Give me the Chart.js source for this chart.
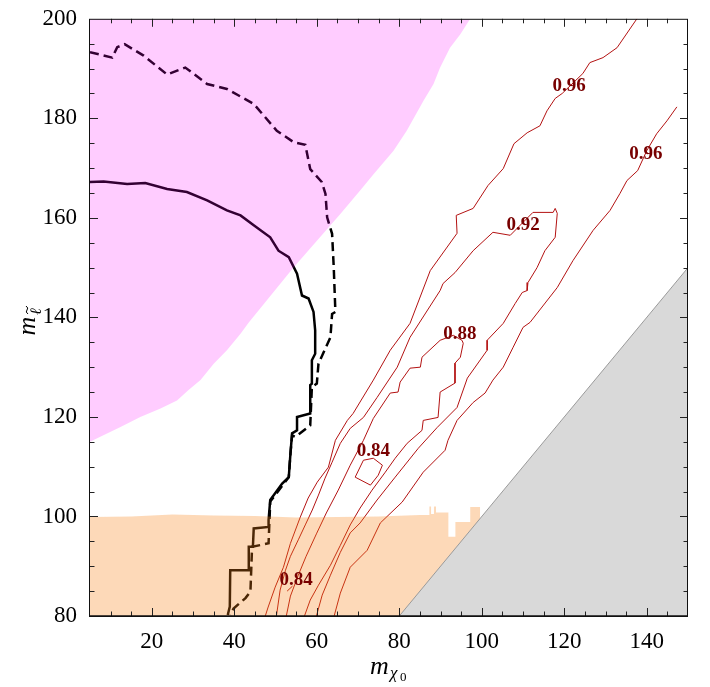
<!DOCTYPE html>
<html>
<head>
<meta charset="utf-8">
<script src="https://cdn.jsdelivr.net/npm/chart.js@4.4.1/dist/chart.umd.min.js"></script>
<style>
  html, body { margin: 0; padding: 0; background: #fff; }
</style>
</head>
<body>
<canvas id="grafico" width="710" height="687"></canvas>
<script>
// eixos
const xMin = 5, xMax = 150, yMin = 80, yMax = 200;
const xTicks = [20, 40, 60, 80, 100, 120, 140];
const yTicks = [80, 100, 120, 140, 160, 180, 200];

// regioes sombreadas (borda superior / inferior)
const regiaoRosa = [[5,115.0],[7.5,116.0],[12.4,118.0],[17.2,120.0],[22.1,121.7],[26.1,123.3],[28.9,125.4],[31.8,127.4],[35.0,130.7],[38.2,133.4],[41.5,136.7],[43.5,139.0],[54.3,150.0],[65.7,160.8],[70.5,165.5],[73.8,168.8],[78.6,173.5],[81.8,177.5],[85.9,183.6],[88.3,186.9],[89.9,190.2],[92.3,194.2],[94.8,196.9],[97.2,200]];
const regiaoLaranja = [[5,99.9],[15,100.0],[25,100.4],[35,100.2],[45,100.1],[55,99.8],[65,99.9],[75,100.0],[85,100.3],[87.3,100.3],[87.3,102],[87.7,102],[87.7,100.5],[88.4,100.5],[88.4,102],[88.9,102],[88.9,100.8],[91.9,100.8],[91.9,95.9],[93.6,95.9],[93.6,98.9],[97.2,98.9],[97.2,101.9],[99.6,101.9],[99.6,99.0]];
const regiaoCinza = [[80,80],[150,150]];

// limites pretos
const linhaSolida = [[5,167.2],[8.3,167.3],[14.0,166.8],[18.4,167.0],[23.7,165.8],[28.5,165.2],[33.4,163.5],[38.2,161.5],[41.5,160.5],[44.7,158.5],[48.7,156.1],[50.7,153.4],[53.2,152.1],[55.2,148.8],[56.4,144.4],[58.0,143.8],[59.2,141.1],[59.6,137.4],[59.6,132.7],[58.8,131.4],[58.8,126.7],[58.4,126.4],[58.4,120.7],[55.2,120.0],[55.2,117.3],[54.0,116.7],[53.6,112.6],[53.2,107.9],[51.6,106.6],[48.7,103.3],[48.3,99.3],[48.3,97.9],[44.7,97.6],[44.5,93.9],[43.5,93.9],[43.5,89.2],[39.0,89.2],[38.9,81.9],[38.4,80.2]];
const linhaTracejada = [[5,193.3],[10.4,192.2],[11.6,194.3],[13.4,194.9],[18.0,192.6],[23.7,188.8],[28.1,190.2],[33.4,186.9],[38.2,185.9],[44.7,182.9],[50.3,177.5],[54.4,175.2],[57.2,174.7],[58.4,169.8],[61.2,167.2],[62.1,164.8],[62.5,160.1],[63.7,156.8],[64.1,150.1],[64.5,141.1],[63.7,140.7],[63.3,136.0],[60.4,130.7],[60.0,126.7],[58.8,126.0],[58.4,118.3],[54.8,116.0],[54.0,116.3],[53.6,112.6],[53.2,107.9],[48.7,103.0],[48.3,94.6],[44.3,93.9],[43.9,84.9],[42.7,83.6],[39.8,81.5],[39.0,80.2]];

// contornos vermelhos
const contorno96a = [[47.5,80],[48.2,81.8],[49.9,85.8],[51.9,89.8],[53.6,94.6],[56.0,99.9],[57.9,103.7],[60.1,106.9],[62.8,109.9],[64.5,115.3],[67.4,119.3],[68.8,120.7],[73.7,127.4],[77.8,133.4],[82.6,138.8],[87.5,149.4],[94.0,156.9],[93.8,160.5],[97.9,161.9],[101.5,166.5],[105.2,169.9],[107.8,174.9],[111.0,177.1],[114.1,178.5],[115.8,181.5],[117.8,184.0],[119.5,185.0],[124.5,189.0],[126.2,191.2],[129.4,192.2],[132.8,194.2],[137.6,200]];
const contorno92 = [[50.2,80],[51.1,85.2],[52.4,89.2],[53.6,92.0],[55.5,95.3],[57.2,98.3],[58.9,101.3],[60.4,104.3],[62.0,107.7],[63.7,110.9],[65.7,114.7],[68.1,117.7],[71.3,119.9],[74.6,123.9],[79.5,130.0],[82.6,136.0],[89.9,145.4],[90.6,146.8],[93.5,149.0],[97.9,153.4],[102.7,157.1],[106.9,156.5],[112.4,161.1],[117.3,161.1],[117.8,161.9],[118.3,160.9],[117.8,156.1],[115.3,153.4],[113.4,150.0],[111.2,147.0],[111.0,145.4],[109.8,145.0],[108.1,142.8],[105.2,138.8],[101.3,135.4],[101.3,133.4],[96.5,127.8],[94.0,121.9],[89.2,117.9],[84.6,113.7],[79.0,107.9],[74.6,103.3],[70.5,98.7],[68.1,96.7],[65.7,92.8],[63.3,88.2],[61.3,84.2],[59.9,80]];
const contorno96b = [[147.3,182.3],[144.9,179.5],[142.4,176.9],[140.0,173.5],[137.8,169.5],[135.2,167.5],[133.5,164.9],[131.1,161.5],[127.0,157.5],[122.1,151.4],[118.3,146.0],[111.7,139.0],[110.0,138.0],[107.6,134.0],[105.2,130.0],[102.7,127.4],[100.8,124.8],[97.9,122.9],[94.0,119.3],[91.8,115.3],[91.1,113.3],[85.8,108.9],[80.7,102.9],[75.4,98.7],[72.2,93.2],[68.1,89.8],[65.7,84.6],[64.2,80]];
const contorno88 = [[52.6,80],[53.6,84.0],[55.5,88.2],[57.4,92.0],[59.9,96.5],[62.3,100.7],[65.2,105.3],[68.1,110.3],[71.3,115.3],[73.7,119.7],[77.8,124.8],[79.7,125.0],[80.2,127.0],[82.6,129.8],[85.1,130.0],[85.5,132.0],[89.9,135.4],[93.1,136.4],[95.2,135.4],[95.5,134.8],[94.8,132.0],[93.5,130.8],[93.5,126.8],[89.9,125.0],[89.4,119.9],[85.8,119.3],[85.5,117.3],[81.9,114.7],[79.0,111.7],[76.6,108.9],[73.4,105.3],[70.5,101.7],[68.1,98.3],[65.7,94.2],[63.3,90.2],[60.4,86.2],[58.4,83.2],[57.0,80]];
const contorno84a = [[69.3,107.9],[71.3,111.3],[73.7,111.7],[75.9,110.3],[74.9,108.3],[73.0,106.3],[69.3,107.9]];
const contorno84b = [[52.8,85.0],[54.1,86.0]];

// rotulos dos contornos
const rotulosTexto = ["0.96", "0.96", "0.92", "0.88", "0.84", "0.84"];
const rotulosX = [121.2, 139.8, 110.0, 94.7, 73.7, 55.0];
const rotulosY = [186.4, 172.9, 158.5, 136.6, 113.1, 87.2];

function pontos(lista) {
  return lista.map(([x, y]) => ({ x: x, y: y }));
}

function linhaVermelha(lista) {
  return {
    data: pontos(lista),
    showLine: true,
    pointRadius: 0,
    borderColor: "#b31212",
    borderWidth: 1,
    fill: false,
    order: 5,
  };
}

const extras = {
  id: "extras",
  afterDatasetsDraw(chart) {
    const { ctx, scales: { x, y } } = chart;
    ctx.save();
    ctx.fillStyle = "#780000";
    ctx.font = "bold 19px 'Liberation Serif'";
    ctx.textAlign = "center";
    ctx.textBaseline = "middle";
    for (let i = 0; i < rotulosTexto.length; i++) {
      ctx.fillText(rotulosTexto[i], x.getPixelForValue(rotulosX[i]), y.getPixelForValue(rotulosY[i]));
    }
    ctx.restore();
  },
  afterDraw(chart) {
    const { ctx, chartArea: a, scales: { x, y } } = chart;
    ctx.save();
    ctx.strokeStyle = "#222";
    ctx.lineWidth = 1;
    ctx.beginPath();
    for (let v = 10; v < xMax; v += 5) {
      const px = Math.round(x.getPixelForValue(v)) + 0.5;
      const len = v % 20 === 0 ? 8 : 4.5;
      ctx.moveTo(px, a.bottom); ctx.lineTo(px, a.bottom - len);
      ctx.moveTo(px, a.top); ctx.lineTo(px, a.top + len);
    }
    for (let v = 85; v < yMax; v += 5) {
      const py = Math.round(y.getPixelForValue(v)) + 0.5;
      const len = v % 20 === 0 ? 8 : 4.5;
      ctx.moveTo(a.left, py); ctx.lineTo(a.left + len, py);
      ctx.moveTo(a.right, py); ctx.lineTo(a.right - len, py);
    }
    ctx.stroke();
    ctx.strokeStyle = "#111";
    ctx.strokeRect(a.left - 0.5, a.top + 0.5, a.right - a.left, a.bottom - a.top);
    ctx.lineWidth = 1.5;
    ctx.beginPath();
    ctx.moveTo(a.left, a.bottom); ctx.lineTo(a.right, a.bottom);
    ctx.stroke();

    // titulos dos eixos
    ctx.fillStyle = "#000";
    ctx.textBaseline = "alphabetic";
    ctx.textAlign = "left";
    ctx.font = "italic 26px 'Liberation Serif'";
    ctx.fillText("m", 370, 674);
    ctx.font = "italic 17px 'Liberation Serif'";
    ctx.fillText("\u03c7", 390, 678);
    ctx.font = "13px 'Liberation Serif'";
    ctx.fillText("0", 400, 681);

    ctx.translate(35, 326);
    ctx.rotate(-Math.PI / 2);
    ctx.font = "italic 26px 'Liberation Serif'";
    ctx.textAlign = "center";
    ctx.fillText("m", 0, 0);
    ctx.font = "italic 16px 'Liberation Serif'";
    ctx.textAlign = "left";
    ctx.fillText("\u2113", 11, 6);
    // til sobre o l
    ctx.strokeStyle = "#000";
    ctx.lineWidth = 1;
    ctx.beginPath();
    ctx.moveTo(12, -7);
    ctx.quadraticCurveTo(14, -10, 16, -8);
    ctx.quadraticCurveTo(18, -6, 20, -9);
    ctx.stroke();
    ctx.restore();
  },
};

const ctx = document.getElementById("grafico");
const grafico = new Chart(ctx, {
  type: "scatter",
  data: {
    datasets: [
      { data: pontos(regiaoCinza), showLine: true, pointRadius: 0, borderColor: "#9a9a9a", borderWidth: 1,
        backgroundColor: "#d9d9d9", fill: "start", order: 0 },
      { data: pontos(regiaoLaranja), showLine: true, pointRadius: 0, borderColor: "transparent", borderWidth: 0,
        backgroundColor: "rgba(250,130,20,0.3)", fill: "start", order: 1 },
      { data: pontos(regiaoRosa), showLine: true, pointRadius: 0, borderColor: "transparent", borderWidth: 0,
        backgroundColor: "rgba(255,0,255,0.2)", fill: "end", order: 2 },
      { data: pontos(linhaSolida), showLine: true, pointRadius: 0, borderColor: "#000", borderWidth: 2.5,
        fill: false, order: 3 },
      { data: pontos(linhaTracejada), showLine: true, pointRadius: 0, borderColor: "#000", borderWidth: 2.5,
        borderDash: [9, 5], fill: false, order: 4 },
      linhaVermelha(contorno96a),
      linhaVermelha(contorno92),
      linhaVermelha(contorno96b),
      linhaVermelha(contorno88),
      linhaVermelha(contorno84a),
      linhaVermelha(contorno84b),
    ],
  },
  options: {
    responsive: false,
    animation: false,
    layout: { padding: { left: 0, right: 22, top: 18, bottom: 0 } },
    plugins: { legend: { display: false }, tooltip: { enabled: false } },
    scales: {
      x: {
        type: "linear",
        min: xMin,
        max: xMax,
        grid: { display: false },
        border: { display: false },
        afterBuildTicks: (s) => { s.ticks = xTicks.map((v) => ({ value: v })); },
        afterFit: (s) => { s.height = 71; },
        ticks: { font: { family: "Liberation Serif", size: 23 }, color: "#000", padding: 4, maxRotation: 0, autoSkip: false },
      },
      y: {
        type: "linear",
        min: yMin,
        max: yMax,
        grid: { display: false },
        border: { display: false },
        afterBuildTicks: (s) => { s.ticks = yTicks.map((v) => ({ value: v })); },
        afterFit: (s) => { s.width = 90; },
        ticks: { font: { family: "Liberation Serif", size: 23 }, color: "#000", padding: 5, autoSkip: false },
      },
    },
  },
  plugins: [extras],
});
</script>
</body>
</html>
